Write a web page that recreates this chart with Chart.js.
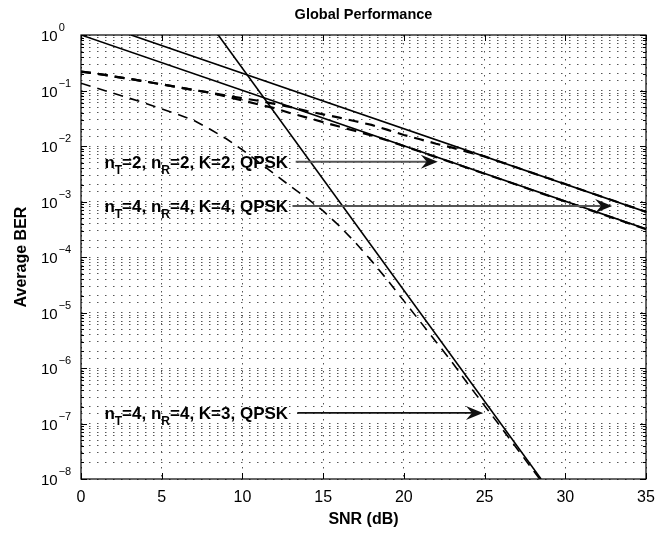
<!DOCTYPE html>
<html>
<head>
<meta charset="utf-8">
<script src="https://cdn.jsdelivr.net/npm/chart.js@4/dist/chart.umd.min.js"></script>
<style>
  body { margin: 0; background: #fff; }
  #wrap { width: 656px; height: 534px; }
</style>
</head>
<body>
<div id="wrap"><canvas id="berChart" width="656" height="534"></canvas></div>
<script>
// SNR grid (dB) used by the dashed curves
const snr = [0, 1, 2, 3, 4, 5, 6, 7, 8, 9, 10, 11, 12, 13, 14, 15, 16, 17, 18, 19, 20,
             21, 22, 23, 24, 25, 26, 27, 28, 29, 30, 31, 32, 33, 34, 35];

// dashed, nT=2 nR=2 K=2
const berK2 = [0.219, 0.200, 0.180, 0.162, 0.145, 0.129, 0.115, 0.102, 0.0912, 0.0813,
               0.0724, 0.0653, 0.0575, 0.0501, 0.0427, 0.0372, 0.0324, 0.0279, 0.0240, 0.0195,
               0.0158, 0.0132, 0.0110, 0.00933, 0.00776, 0.00649, 0.00515, 0.00409, 0.00325, 0.00259,
               0.00206, 0.00163, 0.00130, 0.00103, 0.000818, 0.00065];
// dashed, nT=4 nR=4 K=4
const berK4 = [0.219, 0.200, 0.180, 0.162, 0.145, 0.129, 0.115, 0.102, 0.0912, 0.0776,
               0.0661, 0.0562, 0.0479, 0.0389, 0.0324, 0.0269, 0.0224, 0.0186, 0.0155, 0.0126,
               0.0100, 0.00794, 0.00631, 0.00501, 0.00398, 0.00316, 0.00251, 0.00200, 0.00158, 0.00126,
               0.00100, 0.000794, 0.000631, 0.000501, 0.000398, 0.000316];
// dashed, nT=4 nR=4 K=3 (0..29 dB)
const berK3 = [0.135, 0.110, 0.0891, 0.0724, 0.0589, 0.0468, 0.0372, 0.0288, 0.0200, 0.0135,
               0.00851, 0.00513, 0.00309, 0.00186, 0.00115, 6.76e-4, 3.63e-4, 1.82e-4, 8.51e-5, 3.80e-5,
               1.62e-5, 6.92e-6, 2.95e-6, 1.26e-6, 5.01e-7, 2.09e-7, 8.71e-8, 3.55e-8, 1.45e-8, 5.9e-9];

// solid reference lines (straight on the log axis)
const snrA = [0, 35],   berA = [1, 3.2e-4];
const snrB = [3.1, 35], berB = [1, 6.5e-4];
const snrC = [8.5, 28.5], berC = [1, 1e-8];

const xTicks = [0, 5, 10, 15, 20, 25, 30, 35];
const yExponents = [0, -1, -2, -3, -4, -5, -6, -7, -8];

// annotations: text with subscripts, arrow from x0 to x1 at BER level
const notes = [
  { parts: [['n', 0], ['T', 1], ['=2, n', 0], ['R', 1], ['=2, K=2, QPSK', 0]], tx: 1.45, x0: 13.3, x1: 22.1, ber: 5.2e-3, color: '#555' },
  { parts: [['n', 0], ['T', 1], ['=4, n', 0], ['R', 1], ['=4, K=4, QPSK', 0]], tx: 1.45, x0: 13.1, x1: 32.9, ber: 8.3e-4, color: '#555' },
  { parts: [['n', 0], ['T', 1], ['=4, n', 0], ['R', 1], ['=4, K=3, QPSK', 0]], tx: 1.45, x0: 13.4, x1: 24.9, ber: 1.55e-7, color: '#111' }
];

const FONT = '"Liberation Sans", Arial, Helvetica, sans-serif';

function pts(xs, ys) {
  return ys.map((v, i) => ({ x: xs[i], y: v }));
}

function line(data, dashed, width) {
  return {
    data: data,
    borderColor: '#000',
    borderWidth: width,
    borderDash: dashed ? [10, 7] : [],
    pointRadius: 0,
    tension: 0,
    fill: false
  };
}

const overlay = {
  id: 'overlay',
  afterDraw(chart) {
    const { ctx, chartArea: a } = chart;
    const x = chart.scales.x, y = chart.scales.y;
    ctx.save();

    // frame
    ctx.strokeStyle = '#000';
    ctx.lineWidth = 1.2;
    ctx.strokeRect(a.left, a.top, a.right - a.left, a.bottom - a.top);

    // inward tick marks
    ctx.lineWidth = 1;
    ctx.beginPath();
    xTicks.forEach(v => {
      const px = Math.round(x.getPixelForValue(v)) + 0.5;
      ctx.moveTo(px, a.bottom); ctx.lineTo(px, a.bottom - 6);
      ctx.moveTo(px, a.top); ctx.lineTo(px, a.top + 6);
    });
    yExponents.forEach(e => {
      for (let m = 1; m <= 9; m++) {
        const v = m * Math.pow(10, e);
        if (v > 1.0001) continue;
        const py = Math.round(y.getPixelForValue(v)) + 0.5;
        const len = m === 1 ? 6 : 3;
        ctx.moveTo(a.left, py); ctx.lineTo(a.left + len, py);
        ctx.moveTo(a.right, py); ctx.lineTo(a.right - len, py);
      }
    });
    ctx.stroke();

    // x tick labels
    ctx.fillStyle = '#000';
    ctx.font = '16px ' + FONT;
    ctx.textAlign = 'center';
    ctx.textBaseline = 'alphabetic';
    xTicks.forEach(v => ctx.fillText(String(v), x.getPixelForValue(v), a.bottom + 23));

    // y tick labels 10^e
    ctx.textAlign = 'left';
    yExponents.forEach(e => {
      const py = y.getPixelForValue(Math.pow(10, e));
      ctx.font = '15px ' + FONT;
      ctx.fillText('10', 41, py + 6);
      const w = ctx.measureText('10').width;
      ctx.font = '11px ' + FONT;
      ctx.fillText(e === 0 ? '0' : '\u2212' + (-e), 41 + w + 1, py - 4);
    });

    // titles
    ctx.font = 'bold 14.5px ' + FONT;
    ctx.textAlign = 'center';
    ctx.fillText('Global Performance', (a.left + a.right) / 2, 19);
    ctx.font = 'bold 16px ' + FONT;
    ctx.fillText('SNR (dB)', (a.left + a.right) / 2, 524);
    ctx.save();
    ctx.translate(26, (a.top + a.bottom) / 2);
    ctx.rotate(-Math.PI / 2);
    ctx.fillText('Average BER', 0, 0);
    ctx.restore();

    // annotations
    notes.forEach(n => {
      const py = y.getPixelForValue(n.ber);
      let cx = x.getPixelForValue(n.tx);
      ctx.textAlign = 'left';
      n.parts.forEach(([s, sub]) => {
        ctx.font = (sub ? 'bold 12px ' : 'bold 17px ') + FONT;
        ctx.fillText(s, cx, py + (sub ? 12 : 6));
        cx += ctx.measureText(s).width;
      });
      const x0 = x.getPixelForValue(n.x0), x1 = x.getPixelForValue(n.x1);
      ctx.strokeStyle = n.color;
      ctx.lineWidth = 1.8;
      ctx.beginPath();
      ctx.moveTo(x0, py); ctx.lineTo(x1 - 8, py);
      ctx.stroke();
      ctx.fillStyle = '#111';
      ctx.beginPath();
      ctx.moveTo(x1, py);
      ctx.lineTo(x1 - 17, py - 7);
      ctx.lineTo(x1 - 11, py);
      ctx.lineTo(x1 - 17, py + 7);
      ctx.closePath();
      ctx.fill();
      ctx.fillStyle = '#000';
    });

    ctx.restore();
  }
};

new Chart(document.getElementById('berChart').getContext('2d'), {
  type: 'line',
  data: {
    datasets: [
      line(pts(snrA, berA), false, 1.6),
      line(pts(snrB, berB), false, 1.6),
      line(pts(snrC, berC), false, 1.6),
      line(pts(snr, berK2), true, 2.2),
      line(pts(snr, berK4), true, 2.2),
      line(pts(snr.slice(0, berK3.length), berK3), true, 1.6)
    ]
  },
  options: {
    responsive: false,
    animation: false,
    events: [],
    layout: { padding: { left: 81, right: 10, top: 35, bottom: 55 } },
    plugins: { legend: { display: false }, tooltip: { enabled: false }, title: { display: false } },
    scales: {
      x: {
        type: 'linear', min: 0, max: 35,
        ticks: { display: false, stepSize: 5 },
        grid: { color: '#555', lineWidth: 1, drawTicks: false },
        border: { display: false, dash: [1.5, 6.5] }
      },
      y: {
        type: 'logarithmic', min: 1e-8, max: 1,
        ticks: { display: false, autoSkip: false },
        grid: { color: '#555', lineWidth: 1, drawTicks: false },
        border: { display: false, dash: [1.5, 6.5] }
      }
    }
  },
  plugins: [overlay]
});
</script>
</body>
</html>
